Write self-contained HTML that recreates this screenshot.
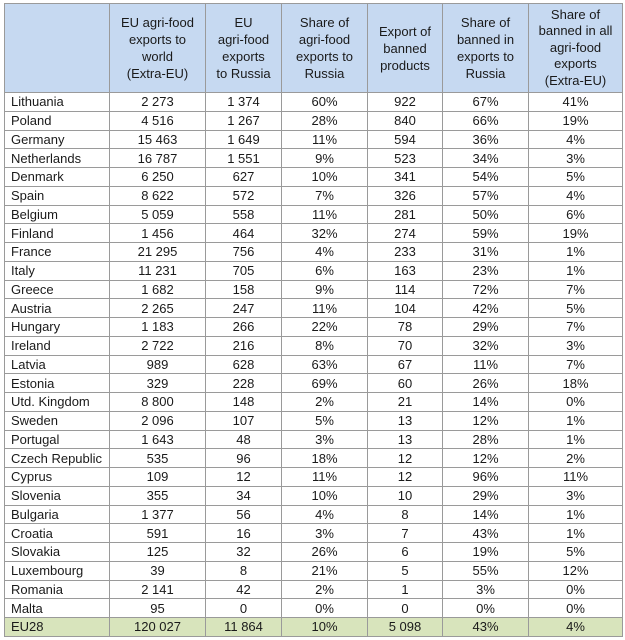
<!DOCTYPE html>
<html><head><meta charset="utf-8"><style>
html,body{margin:0;padding:0;background:#fff;width:625px;height:640px;overflow:hidden}
table{position:absolute;left:4px;top:3px;border-collapse:collapse;font-family:"Liberation Sans",sans-serif;font-size:13px;color:#1a1a1a;table-layout:fixed}
td{border:1px solid #9a9a9a;padding:0;height:17.75px;line-height:17px;text-align:center;white-space:nowrap;overflow:hidden}
td:first-child{text-align:left;padding-left:6px}
tr.h td{background:#c6d9f1;height:88px;line-height:17px;white-space:normal;vertical-align:middle;font-size:13px}
tr.h td:last-child{line-height:16.5px}
tr.t td{background:#d8e4bc}
</style></head><body>
<table>
<colgroup><col style="width:105px"><col style="width:96px"><col style="width:76px"><col style="width:86px"><col style="width:75px"><col style="width:86px"><col style="width:94px"></colgroup>
<tr class="h"><td></td><td>EU agri-food<br>exports to<br>world<br>(Extra-EU)</td><td>EU<br>agri-food<br>exports<br>to Russia</td><td>Share of<br>agri-food<br>exports to<br>Russia</td><td>Export of<br>banned<br>products</td><td>Share of<br>banned in<br>exports to<br>Russia</td><td>Share of<br>banned in all<br>agri-food<br>exports<br>(Extra-EU)</td></tr>
<tr><td>Lithuania</td><td>2 273</td><td>1 374</td><td>60%</td><td>922</td><td>67%</td><td>41%</td></tr>
<tr><td>Poland</td><td>4 516</td><td>1 267</td><td>28%</td><td>840</td><td>66%</td><td>19%</td></tr>
<tr><td>Germany</td><td>15 463</td><td>1 649</td><td>11%</td><td>594</td><td>36%</td><td>4%</td></tr>
<tr><td>Netherlands</td><td>16 787</td><td>1 551</td><td>9%</td><td>523</td><td>34%</td><td>3%</td></tr>
<tr><td>Denmark</td><td>6 250</td><td>627</td><td>10%</td><td>341</td><td>54%</td><td>5%</td></tr>
<tr><td>Spain</td><td>8 622</td><td>572</td><td>7%</td><td>326</td><td>57%</td><td>4%</td></tr>
<tr><td>Belgium</td><td>5 059</td><td>558</td><td>11%</td><td>281</td><td>50%</td><td>6%</td></tr>
<tr><td>Finland</td><td>1 456</td><td>464</td><td>32%</td><td>274</td><td>59%</td><td>19%</td></tr>
<tr><td>France</td><td>21 295</td><td>756</td><td>4%</td><td>233</td><td>31%</td><td>1%</td></tr>
<tr><td>Italy</td><td>11 231</td><td>705</td><td>6%</td><td>163</td><td>23%</td><td>1%</td></tr>
<tr><td>Greece</td><td>1 682</td><td>158</td><td>9%</td><td>114</td><td>72%</td><td>7%</td></tr>
<tr><td>Austria</td><td>2 265</td><td>247</td><td>11%</td><td>104</td><td>42%</td><td>5%</td></tr>
<tr><td>Hungary</td><td>1 183</td><td>266</td><td>22%</td><td>78</td><td>29%</td><td>7%</td></tr>
<tr><td>Ireland</td><td>2 722</td><td>216</td><td>8%</td><td>70</td><td>32%</td><td>3%</td></tr>
<tr><td>Latvia</td><td>989</td><td>628</td><td>63%</td><td>67</td><td>11%</td><td>7%</td></tr>
<tr><td>Estonia</td><td>329</td><td>228</td><td>69%</td><td>60</td><td>26%</td><td>18%</td></tr>
<tr><td>Utd. Kingdom</td><td>8 800</td><td>148</td><td>2%</td><td>21</td><td>14%</td><td>0%</td></tr>
<tr><td>Sweden</td><td>2 096</td><td>107</td><td>5%</td><td>13</td><td>12%</td><td>1%</td></tr>
<tr><td>Portugal</td><td>1 643</td><td>48</td><td>3%</td><td>13</td><td>28%</td><td>1%</td></tr>
<tr><td>Czech Republic</td><td>535</td><td>96</td><td>18%</td><td>12</td><td>12%</td><td>2%</td></tr>
<tr><td>Cyprus</td><td>109</td><td>12</td><td>11%</td><td>12</td><td>96%</td><td>11%</td></tr>
<tr><td>Slovenia</td><td>355</td><td>34</td><td>10%</td><td>10</td><td>29%</td><td>3%</td></tr>
<tr><td>Bulgaria</td><td>1 377</td><td>56</td><td>4%</td><td>8</td><td>14%</td><td>1%</td></tr>
<tr><td>Croatia</td><td>591</td><td>16</td><td>3%</td><td>7</td><td>43%</td><td>1%</td></tr>
<tr><td>Slovakia</td><td>125</td><td>32</td><td>26%</td><td>6</td><td>19%</td><td>5%</td></tr>
<tr><td>Luxembourg</td><td>39</td><td>8</td><td>21%</td><td>5</td><td>55%</td><td>12%</td></tr>
<tr><td>Romania</td><td>2 141</td><td>42</td><td>2%</td><td>1</td><td>3%</td><td>0%</td></tr>
<tr><td>Malta</td><td>95</td><td>0</td><td>0%</td><td>0</td><td>0%</td><td>0%</td></tr>
<tr class="t"><td>EU28</td><td>120 027</td><td>11 864</td><td>10%</td><td>5 098</td><td>43%</td><td>4%</td></tr>
</table>
</body></html>
